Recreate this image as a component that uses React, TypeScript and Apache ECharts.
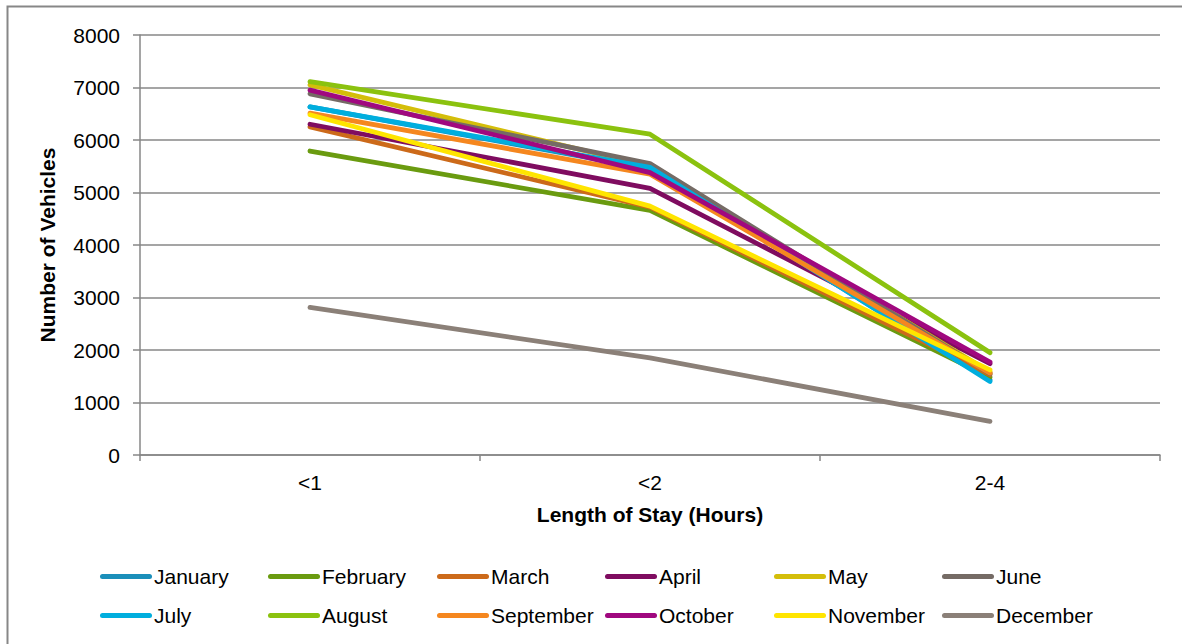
import React, { useEffect, useRef } from "react";
import * as echarts from "echarts";

const categories = ["<1", "<2", "2-4"];
const months = [
  "January", "February", "March", "April", "May", "June",
  "July", "August", "September", "October", "November", "December",
];
const january = [6630, 5450, 1430];
const february = [5790, 4660, 1480];
const march = [6250, 4720, 1530];
const april = [6300, 5080, 1740];
const may = [7050, 5500, 1580];
const june = [6880, 5550, 1550];
const july = [6630, 5480, 1400];
const august = [7110, 6110, 1950];
const september = [6510, 5350, 1560];
const october = [6950, 5380, 1770];
const november = [6480, 4740, 1620];
const december = [2810, 1850, 640];
const seriesValues = [
  january, february, march, april, may, june,
  july, august, september, october, november, december,
];
const colors = [
  "#1B8FBA", "#6A9B10", "#CC6A1A", "#7F0C60", "#D4BE0A", "#756B65",
  "#00AEDE", "#8BC20F", "#F5871F", "#A0087F", "#FFE500", "#8B8078",
];
const yTicks = { min: 0, max: 8000, interval: 1000 };

const FONT = "'Liberation Sans', Arial, sans-serif";
const FS = 21;
const LEGEND_ICON =
  "path://M2.5,0 L49.5,0 A2.5,2.5 0 0 1 49.5,5 L2.5,5 A2.5,2.5 0 0 1 2.5,0 Z";

export default function App() {
  const ref = useRef<HTMLDivElement>(null);
  useEffect(() => {
    if (!ref.current) return;
    const chart = echarts.init(ref.current, null, { renderer: "svg" });
    const colStart = [100, 268, 437, 605, 774, 942];
    const legends = colStart.map((x, i) => ({
      orient: "vertical",
      left: x,
      top: 566,
      padding: 0,
      icon: LEGEND_ICON,
      itemWidth: 52,
      itemHeight: 5,
      itemGap: 18,
      selectedMode: false,
      data: [months[i], months[i + 6]],
      textStyle: { fontFamily: FONT, fontSize: FS, color: "#000", padding: [0, 0, 0, -3] },
    }));
    chart.setOption({
      animation: false,
      color: colors,
      graphic: [
        {
          type: "rect",
          shape: { x: 7.5, y: 6.5, width: 1200, height: 700 },
          style: { fill: "none", stroke: "#878787", lineWidth: 2 },
          silent: true,
        },
      ],
      grid: { left: 140, right: 22, top: 35, bottom: 189 },
      legend: legends,
      xAxis: {
        type: "category",
        data: categories,
        boundaryGap: true,
        name: "Length of Stay (Hours)",
        nameLocation: "middle",
        nameGap: 49,
        nameTextStyle: { fontFamily: FONT, fontSize: FS, fontWeight: "bold", color: "#000" },
        axisLine: { lineStyle: { color: "#878787", width: 1.5 } },
        axisTick: { show: true, length: 6, lineStyle: { color: "#878787", width: 1.5 } },
        axisLabel: { margin: 17, fontFamily: FONT, fontSize: FS, color: "#000" },
        splitLine: { show: false },
      },
      yAxis: {
        type: "value",
        min: yTicks.min,
        max: yTicks.max,
        interval: yTicks.interval,
        name: "Number of Vehicles",
        nameLocation: "middle",
        nameRotate: 90,
        nameGap: 82,
        nameTextStyle: { fontFamily: FONT, fontSize: FS, fontWeight: "bold", color: "#000" },
        axisLine: { show: true, lineStyle: { color: "#878787", width: 1.5 } },
        axisTick: { show: true, length: 7, lineStyle: { color: "#878787", width: 1.5 } },
        axisLabel: {
          margin: 20,
          fontFamily: FONT,
          fontSize: FS,
          color: "#000",
          formatter: (v: number) => String(v),
        },
        splitLine: { show: true, lineStyle: { color: "#878787", width: 1.5 } },
      },
      series: months.map((m, i) => ({
        name: m,
        type: "line",
        data: seriesValues[i],
        symbol: "none",
        showSymbol: false,
        smooth: false,
        lineStyle: { width: 4.8, cap: "round", join: "round", color: colors[i] },
        itemStyle: { color: colors[i] },
      })),
    });
    return () => chart.dispose();
  }, []);
  return (
    <div
      ref={ref}
      style={{ position: "absolute", left: 0, top: 0, width: 1182, height: 644, background: "#fff" }}
    />
  );
}
